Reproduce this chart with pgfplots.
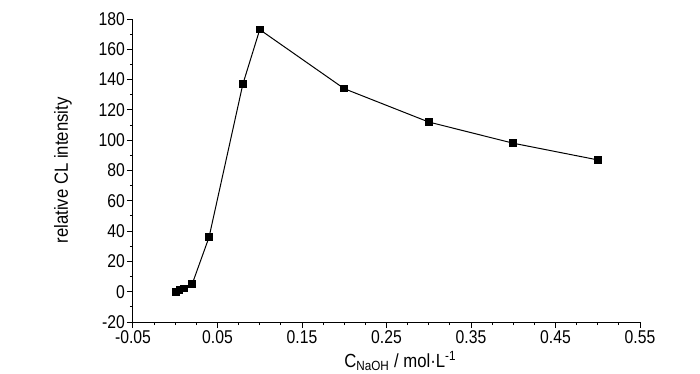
\documentclass[border=0pt]{standalone}
\usepackage{pgfplots}
\pgfplotsset{compat=1.18}
\usepackage{fontspec}
\setmainfont{Liberation Sans}[FakeStretch=0.88]
\newfontfamily\tickfont{Liberation Sans}[FakeStretch=0.85]
\begin{document}
\begin{tikzpicture}
\begin{axis}[
  scale only axis,
  width=507pt, height=303pt,
  xmin=-0.05, xmax=0.55,
  ymin=-20, ymax=180,
  axis lines=left,
  axis line style={-, line width=1pt},
  tick align=outside,
  major tick length=6pt,
  minor tick length=3pt,
  every tick/.style={line width=1pt, black},
  xtick={-0.05,0.05,0.15,0.25,0.35,0.45,0.55},
  minor x tick num=3,
  ytick={-20,0,20,40,60,80,100,120,140,160,180},
  minor y tick num=1,
  /pgf/number format/assume math mode=true,
  xticklabel style={/pgf/number format/fixed, /pgf/number format/precision=2, /pgf/number format/fixed zerofill},
  ticklabel style={font=\tickfont\fontsize{18.5}{19}\selectfont, inner sep=2pt},
  xlabel={C\textsubscript{NaOH} / mol·L\textsuperscript{-1}},
  ylabel={relative CL intensity},
  label style={font=\fontsize{19}{20}\selectfont},
  xlabel style={at={(axis description cs:0.527,-0.1485)}, anchor=base},
  ylabel style={at={(axis description cs:-0.138,0.5)}, anchor=center},
  clip=false,
]
\addplot[black, line width=1pt, mark=square*, mark size=3.3pt, mark options={solid, fill=black}]
coordinates {
(0.001,0) (0.005,1) (0.01,2) (0.02,5) (0.04,36) (0.08,137) (0.1,173) (0.2,134) (0.3,112) (0.4,98) (0.5,87)
};
\coordinate (sw) at (rel axis cs:0,0);
\coordinate (ne) at (rel axis cs:1,1);
\end{axis}
\pgfresetboundingbox
\path ([shift={(-133pt,-51pt)}]sw) rectangle ([shift={(60pt,19pt)}]ne);
\end{tikzpicture}
\end{document}
